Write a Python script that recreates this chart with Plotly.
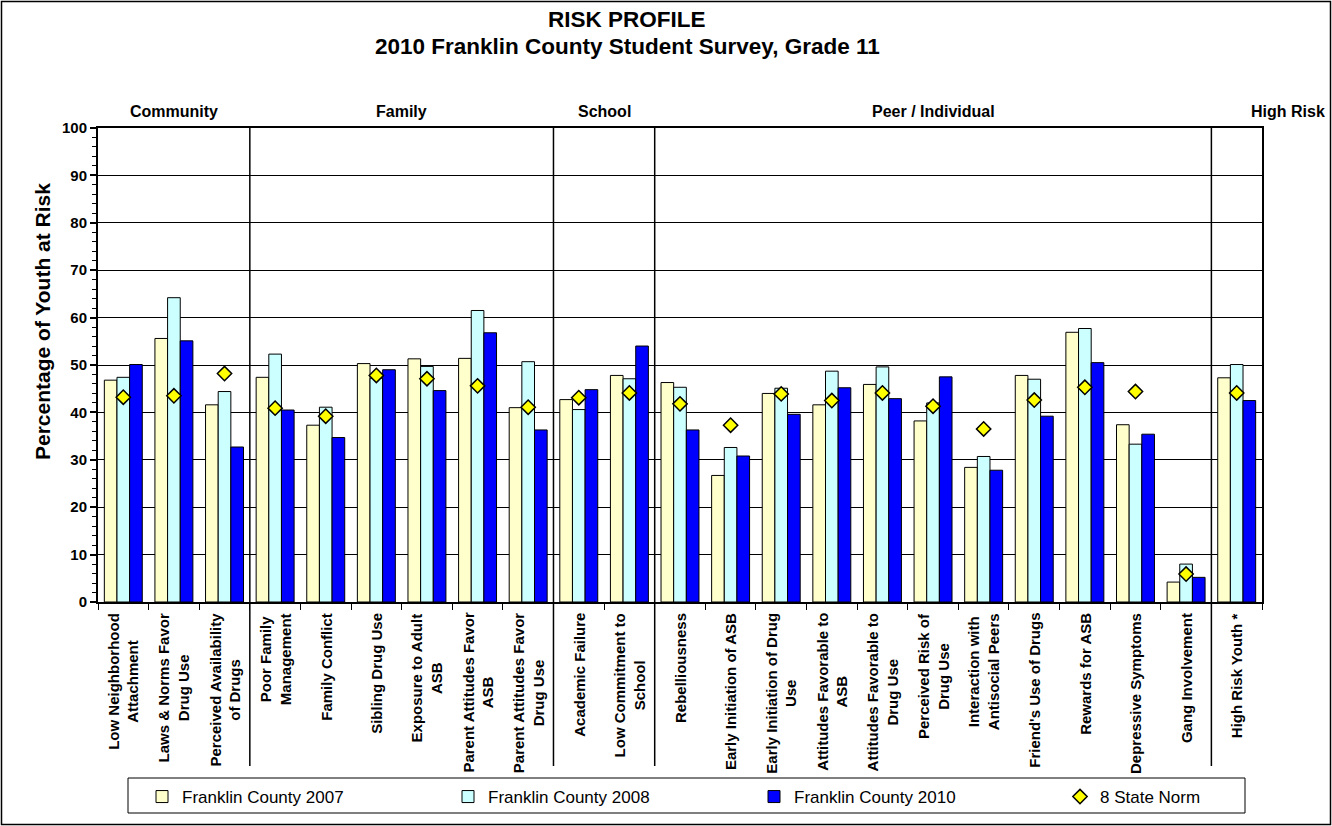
import plotly.graph_objects as go

categories = [
    "Low Neighborhood Attachment", "Laws & Norms Favor Drug Use", "Perceived Availability of Drugs",
    "Poor Family Management", "Family Conflict", "Sibling Drug Use", "Exposure to Adult ASB",
    "Parent Attitudes Favor ASB", "Parent Attitudes Favor Drug Use",
    "Academic Failure", "Low Commitment to School",
    "Rebelliousness", "Early Initiation of ASB", "Early Initiation of Drug Use",
    "Attitudes Favorable to ASB", "Attitudes Favorable to Drug Use", "Perceived Risk of Drug Use",
    "Interaction with Antisocial Peers", "Friend's Use of Drugs", "Rewards for ASB",
    "Depressive Symptoms", "Gang Involvement",
    "High Risk Youth *",
]
tick_labels = [
    "Low Neighborhood<br>Attachment", "Laws & Norms Favor<br>Drug Use", "Perceived Availability<br>of Drugs",
    "Poor Family<br>Management", "Family Conflict", "Sibling Drug Use", "Exposure to Adult<br>ASB",
    "Parent Attitudes Favor<br>ASB", "Parent Attitudes Favor<br>Drug Use",
    "Academic Failure", "Low Commitment to<br>School",
    "Rebelliousness", "Early Initiation of ASB", "Early Initiation of Drug<br>Use",
    "Attitudes Favorable to<br>ASB", "Attitudes Favorable to<br>Drug Use", "Perceived Risk of<br>Drug Use",
    "Interaction with<br>Antisocial Peers", "Friend's Use of Drugs", "Rewards for ASB",
    "Depressive Symptoms", "Gang Involvement",
    "High Risk Youth *",
]
fc2007 = [46.8, 55.6, 41.6, 47.4, 37.3, 50.3, 51.3, 51.4, 41.0, 42.7, 47.8, 46.3, 26.7, 44.0,
          41.6, 45.9, 38.2, 28.4, 47.8, 56.9, 37.4, 4.2, 47.3]
fc2008 = [47.4, 64.2, 44.4, 52.3, 41.1, 47.2, 49.7, 61.5, 50.7, 40.6, 47.1, 45.3, 32.6, 45.1,
          48.7, 49.6, 42.0, 30.7, 47.0, 57.7, 33.3, 8.0, 50.1]
fc2010 = [50.1, 55.1, 32.7, 40.5, 34.7, 49.0, 44.6, 56.8, 36.3, 44.8, 54.0, 36.3, 30.8, 39.6,
          45.2, 42.9, 47.5, 27.8, 39.2, 50.5, 35.4, 5.2, 42.5]
state_norm = [43.2, 43.5, 48.2, 40.9, 39.2, 47.8, 47.1, 45.6, 41.1, 43.1, 44.1, 41.8, 37.3, 43.9,
              42.5, 44.1, 41.3, 36.5, 42.6, 45.3, 44.4, 5.9, 44.1]
series_names = ["Franklin County 2007", "Franklin County 2008", "Franklin County 2010", "8 State Norm"]

groups = ["Community", "Family", "School", "Peer / Individual"]
group_centers = [1, 5.5, 9.5, 16]
separators = [2.5, 8.5, 10.5, 21.5]

FONT = "Liberation Sans, Arial, sans-serif"

fig = go.Figure()
for name, vals, col in [(series_names[0], fc2007, "#FFFFCC"),
                        (series_names[1], fc2008, "#CCFFFF"),
                        (series_names[2], fc2010, "#0000FF")]:
    fig.add_trace(go.Bar(x=categories, y=vals, name=name,
                         marker=dict(color=col, line=dict(color="black", width=1))))
fig.add_trace(go.Scatter(x=categories, y=state_norm, name=series_names[3], mode="markers",
                         legendwidth=110,
                         marker=dict(symbol="diamond", size=11, color="#FFFF00",
                                     line=dict(color="black", width=1.5))))

L, R, T, B = 98, 70, 128, 224
W, H = 1332, 826
PW, PH = W - L - R, H - T - B


def px_x(p):
    return (p - L) / PW


def px_y(p):
    return 1 - (p - T) / PH


shapes = []
for s in separators:
    shapes.append(dict(type="line", xref="x", yref="paper", x0=s, x1=s, y0=1, y1=px_y(766),
                       line=dict(color="black", width=1.5)))
# outer chart border
shapes.append(dict(type="rect", xref="paper", yref="paper", x0=px_x(1.5), x1=px_x(1330.5),
                   y0=px_y(824.5), y1=px_y(1.5), line=dict(color="black", width=1.5)))
# legend box
shapes.append(dict(type="rect", xref="paper", yref="paper", x0=px_x(128), x1=px_x(1245),
                   y0=px_y(813), y1=px_y(778), line=dict(color="black", width=1)))

annotations = []
for c, t in zip(categories, tick_labels):
    annotations.append(dict(x=c, xref="x", y=px_y(611), yref="paper", text=t, textangle=-90,
                            showarrow=False, xanchor="center", yanchor="top", align="center",
                            font=dict(family=FONT, size=15, color="black", weight="bold")))
for g, gc in zip(groups, group_centers):
    annotations.append(dict(x=gc, xref="x", y=px_y(112), yref="paper", text=g, showarrow=False,
                            xanchor="center", yanchor="middle",
                            font=dict(family=FONT, size=16, color="black", weight="bold")))
annotations.append(dict(x=px_x(1288), xref="paper", y=px_y(112), yref="paper", text="High Risk",
                        showarrow=False, xanchor="center", yanchor="middle",
                        font=dict(family=FONT, size=16, color="black", weight="bold")))
annotations.append(dict(x=px_x(627), xref="paper", y=px_y(19), yref="paper", text="RISK PROFILE",
                        showarrow=False, xanchor="center", yanchor="middle",
                        font=dict(family=FONT, size=22.5, color="black", weight="bold")))
annotations.append(dict(x=px_x(627), xref="paper", y=px_y(47), yref="paper",
                        text="2010 Franklin County Student Survey, Grade 11",
                        showarrow=False, xanchor="center", yanchor="middle",
                        font=dict(family=FONT, size=22.5, color="black", weight="bold")))
annotations.append(dict(x=px_x(42), xref="paper", y=px_y(322), yref="paper",
                        text="Percentage of Youth at Risk", textangle=-90,
                        showarrow=False, xanchor="center", yanchor="middle",
                        font=dict(family=FONT, size=21, color="black", weight="bold")))

fig.update_layout(
    width=W, height=H,
    margin=dict(l=L, r=R, t=T, b=B, autoexpand=False),
    paper_bgcolor="white", plot_bgcolor="white",
    barmode="group", bargap=0.25, bargroupgap=0,
    font=dict(family=FONT, color="black"),
    showlegend=True,
    legend=dict(orientation="h", x=px_x(142), xanchor="left", y=px_y(797), yanchor="middle",
                entrywidth=261, entrywidthmode="pixels", bgcolor="rgba(0,0,0,0)",
                borderwidth=0, font=dict(family=FONT, size=17, color="black"),
                traceorder="normal"),
    shapes=shapes,
    annotations=annotations,
)
fig.update_xaxes(type="category", categoryorder="array", categoryarray=categories,
                 showticklabels=False, ticks="outside", tickson="boundaries", ticklen=6,
                 tickcolor="black", tickwidth=1, showline=True, linecolor="black", linewidth=2,
                 mirror=True, showgrid=False, range=[-0.5, len(categories) - 0.5])
fig.update_yaxes(range=[0, 100], dtick=10, tick0=0, ticks="outside", ticklen=6, tickcolor="black",
                 tickwidth=1.5, showline=True, linecolor="black", linewidth=2, mirror=True,
                 showgrid=True, gridcolor="black", gridwidth=1, zeroline=False,
                 tickfont=dict(family=FONT, size=15, color="black", weight="bold"),
                 minor=dict(dtick=2, ticks="outside", ticklen=4, tickcolor="black", tickwidth=1,
                            showgrid=False))

fig.write_html("out.html", config={"displayModeBar": False},
               post_script="document.body.style.margin='0';document.body.style.overflow='hidden';")
